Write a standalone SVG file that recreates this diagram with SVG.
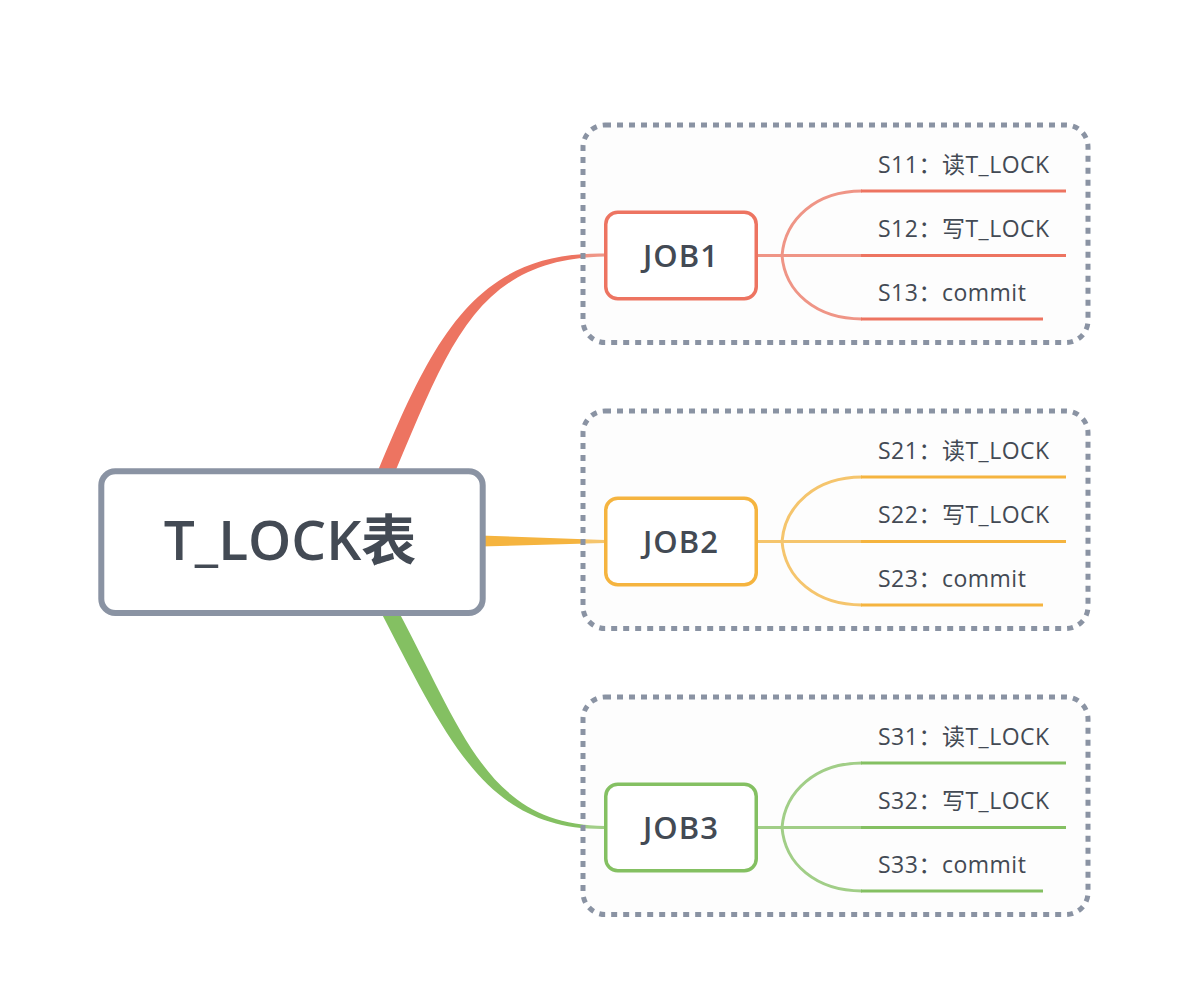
<svg xmlns="http://www.w3.org/2000/svg" width="1188" height="1004" viewBox="0 0 1188 1004">
<style>
.txt{font-family:"Open Sans","Noto Sans CJK SC",sans-serif;fill:#434a54}
.sub{font-size:23px;letter-spacing:0.5px}
.job{font-size:31px;font-weight:600;text-anchor:middle;letter-spacing:1px}
.bnd{fill:#f7f7f7;fill-opacity:0.25;stroke:#8a93a3;stroke-width:5;stroke-dasharray:6 6}
.conn{fill:none;stroke-width:3}
.ul{fill:none;stroke-width:3.2}
.r{stroke:#ed7461}.o{stroke:#f5b43f}.g{stroke:#84c062}
</style>
<rect width="1188" height="1004" fill="#ffffff"/>
<g id="connectors">
  <path d="M375.6,476.9 C432.7,338.5 475,251 605,253.5 L605,256.5 C475,259 449.3,345.5 390.4,483.1 Z" fill="#ed7461"/>
  <path d="M480,535.5 L605,540 L605,543 L480,546.5 Z" fill="#f5b43f"/>
  <path d="M392,599.2 C463.5,730.8 485,824.5 605,826 L605,829 C485,830.5 447.5,739.2 378,606.8 Z" fill="#84c062"/>
  <g class="conn r">
    <path d="M757,255.5 L862,255.5"/>
    <path d="M782,255.5 C785,219 816,191 862,191"/>
    <path d="M782,255.5 C785,292 816,319 862,319"/>
  </g>
  <g class="conn o">
    <path d="M757,541.5 L862,541.5"/>
    <path d="M782,541.5 C785,505 816,477 862,477"/>
    <path d="M782,541.5 C785,578 816,605 862,605"/>
  </g>
  <g class="conn g">
    <path d="M757,827.5 L862,827.5"/>
    <path d="M782,827.5 C785,791 816,763 862,763"/>
    <path d="M782,827.5 C785,864 816,891 862,891"/>
  </g>
</g>
<g id="boundaries">
  <rect class="bnd" x="583" y="125" width="505" height="217.5" rx="22"/>
  <rect class="bnd" x="583" y="411" width="505" height="217.5" rx="22"/>
  <rect class="bnd" x="583" y="697" width="505" height="217.5" rx="22"/>
</g>
<g id="root">
  <rect x="101.3" y="471.3" width="381.4" height="141.7" rx="14" fill="#ffffff" stroke="#8a93a3" stroke-width="6"/>
  <text class="txt" x="290" y="560" font-size="55" font-weight="600" text-anchor="middle">T_LOCK表</text>
</g>
<g id="job1">
  <rect x="605.75" y="212.25" width="150.5" height="86.5" rx="12" fill="#ffffff" stroke="#ed7461" stroke-width="3.5"/>
  <text class="txt job" x="681" y="266.5">JOB1</text>
</g>
<g id="job2">
  <rect x="605.75" y="498.25" width="150.5" height="86.5" rx="12" fill="#ffffff" stroke="#f5b43f" stroke-width="3.5"/>
  <text class="txt job" x="681" y="552.5">JOB2</text>
</g>
<g id="job3">
  <rect x="605.75" y="784.25" width="150.5" height="86.5" rx="12" fill="#ffffff" stroke="#84c062" stroke-width="3.5"/>
  <text class="txt job" x="681" y="838.5">JOB3</text>
</g>
<g id="s11"><path class="ul r" d="M861,191 H1066"/><text class="txt sub" x="878" y="173">S11：读T_LOCK</text></g>
<g id="s12"><path class="ul r" d="M861,255.5 H1066"/><text class="txt sub" x="878" y="237">S12：写T_LOCK</text></g>
<g id="s13"><path class="ul r" d="M861,319 H1043"/><text class="txt sub" x="878" y="301">S13：commit</text></g>
<g id="s21"><path class="ul o" d="M861,477 H1066"/><text class="txt sub" x="878" y="459">S21：读T_LOCK</text></g>
<g id="s22"><path class="ul o" d="M861,541.5 H1066"/><text class="txt sub" x="878" y="523">S22：写T_LOCK</text></g>
<g id="s23"><path class="ul o" d="M861,605 H1043"/><text class="txt sub" x="878" y="587">S23：commit</text></g>
<g id="s31"><path class="ul g" d="M861,763 H1066"/><text class="txt sub" x="878" y="745">S31：读T_LOCK</text></g>
<g id="s32"><path class="ul g" d="M861,827.5 H1066"/><text class="txt sub" x="878" y="809">S32：写T_LOCK</text></g>
<g id="s33"><path class="ul g" d="M861,891 H1043"/><text class="txt sub" x="878" y="873">S33：commit</text></g>
</svg>
